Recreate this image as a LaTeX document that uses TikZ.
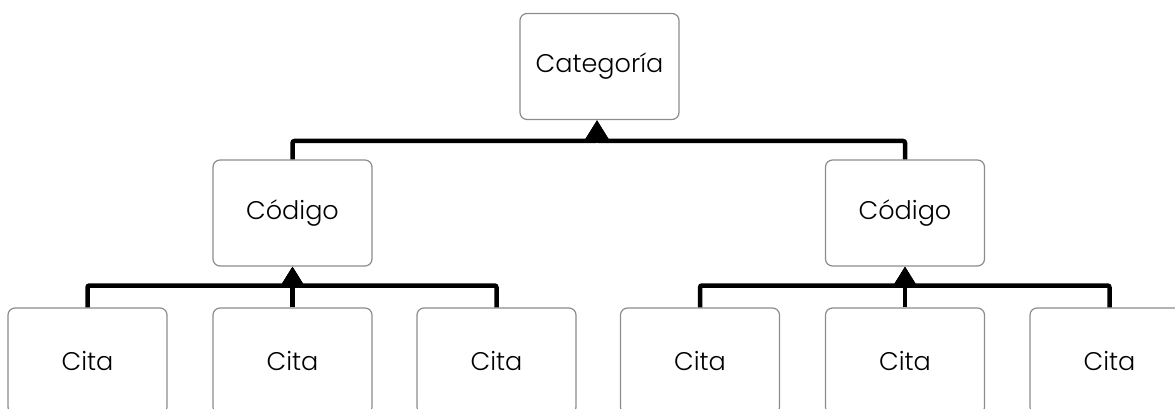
\documentclass[tikz,border=0pt]{standalone}
\usepackage{fontspec}
\setmainfont{Poppins Light}
\usetikzlibrary{arrows.meta}
\definecolor{boxgray}{HTML}{8C8C8C}
\tikzset{
  box/.style={draw=boxgray, line width=1.2pt, rounded corners=7pt, fill=white,
    minimum width=159pt, minimum height=106pt, inner sep=0pt,
    font=\fontsize{25.5}{28}\selectfont},
  conn/.style={line width=4.5pt, black, rounded corners=2pt},
  tip/.style={-{Triangle[length=19pt,width=22pt]}},
}
\begin{document}
\begin{tikzpicture}[x=1pt,y=-1pt]
\useasboundingbox (0,0) rectangle (1175,409);
% nodes
\node[box] (cat) at (599.5,66.5) {Categoría};
\node[box] (codA) at (292.5,213) {Código};
\node[box] (codB) at (905,213) {Código};
\node[box] (c1) at (87.5,361) {Cita};
\node[box] (c2) at (292.5,361) {Cita};
\node[box] (c3) at (496.5,361) {Cita};
\node[box] (c4) at (700,361) {Cita};
\node[box] (c5) at (905,361) {Cita};
\node[box] (c6) at (1109.5,361) {Cita};
% bus levels
\coordinate (busTop) at (0,141);
\coordinate (busA) at (0,285.5);
\coordinate (busB) at (0,285.5);
% connectors
\draw[conn,tip] (codA.north) -- (codA.north |- busTop) -| ([xshift=-2.5pt]cat.south);
\draw[conn,tip] (codB.north) -- (codB.north |- busTop) -| ([xshift=-2.5pt]cat.south);
\draw[conn,tip] (c1.north) -- (c1.north |- busA) -| (codA.south);
\draw[conn,tip] (c2.north) -- (codA.south);
\draw[conn,tip] (c3.north) -- (c3.north |- busA) -| (codA.south);
\draw[conn,tip] (c4.north) -- (c4.north |- busB) -| (codB.south);
\draw[conn,tip] (c5.north) -- (codB.south);
\draw[conn,tip] (c6.north) -- (c6.north |- busB) -| (codB.south);
\end{tikzpicture}
\end{document}
